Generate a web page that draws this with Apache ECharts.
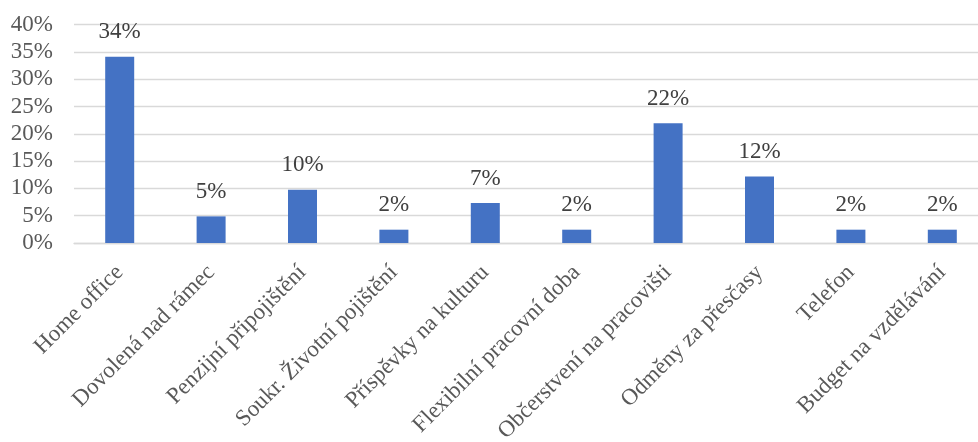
<!DOCTYPE html>
<html>
<head>
<meta charset="utf-8">
<script src="https://cdn.jsdelivr.net/npm/echarts@6/dist/echarts.min.js"></script>
<style>html,body{margin:0;padding:0;background:#fff;}#c{width:978px;height:442px;}</style>
</head>
<body>
<div id="c"></div>
<script>
var categories = ["Home office", "Dovolená nad rámec", "Penzijní připojištění", "Soukr. Životní pojištění", "Příspěvky na kulturu", "Flexibilní pracovní doba", "Občerstvení na pracovišti", "Odměny za přesčasy", "Telefon", "Budget na vzdělávání"];
var values = [0.3415, 0.0488, 0.0976, 0.0244, 0.0732, 0.0244, 0.2195, 0.1220, 0.0244, 0.0244];
var yTicks = [0, 0.05, 0.10, 0.15, 0.20, 0.25, 0.30, 0.35, 0.40];

var chart = echarts.init(document.getElementById('c'));
var font = '"Liberation Serif", "Times New Roman", serif';
chart.setOption({
  animation: false,
  textStyle: { fontFamily: font },
  grid: { left: 74, right: -10, top: 24.7, bottom: 199, containLabel: false, outerBoundsMode: 'none' },
  xAxis: {
    type: 'category',
    data: categories,
    axisTick: { show: false },
    axisLine: { lineStyle: { color: '#d9d9d9', width: 1.3 } },
    axisLabel: { interval: 0, rotate: 45, margin: 26, color: '#595959', fontSize: 23, fontFamily: font }
  },
  yAxis: {
    type: 'value',
    min: yTicks[0],
    max: yTicks[yTicks.length - 1],
    interval: 0.05,
    axisLine: { show: false },
    axisTick: { show: false },
    splitLine: { lineStyle: { color: '#d9d9d9', width: 1.3 } },
    axisLabel: {
      margin: 21, color: '#595959', fontSize: 23, fontFamily: font,
      formatter: function (v) { return Math.round(v * 100) + '%'; }
    }
  },
  series: [{
    type: 'bar',
    data: values,
    barWidth: 29,
    itemStyle: { color: '#4472C4' },
    label: {
      show: true, position: 'top', distance: 13,
      color: '#404040', fontSize: 23, fontFamily: font,
      formatter: function (p) { return Math.round(p.value * 100) + '%'; }
    }
  }]
});
</script>
</body>
</html>
